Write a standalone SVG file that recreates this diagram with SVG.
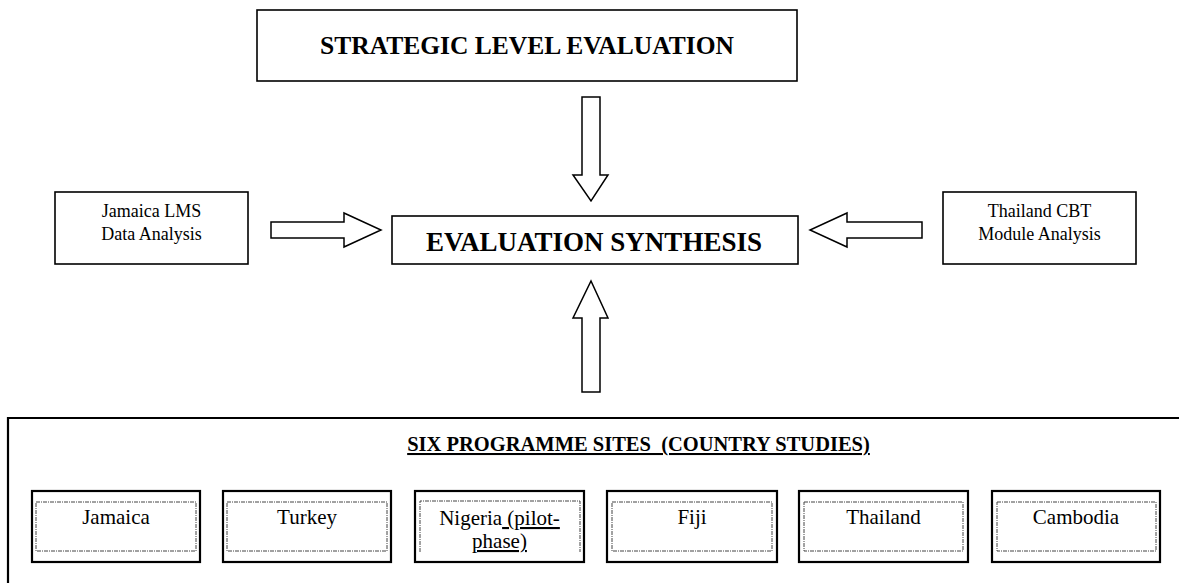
<svg xmlns="http://www.w3.org/2000/svg" width="1179" height="583" viewBox="0 0 1179 583">
<style>
.box{fill:#fff;stroke:#000;stroke-width:1.6}
.cbox{fill:#fff;stroke:#000;stroke-width:2.2}
.inner{fill:none;stroke:#444;stroke-width:1;stroke-dasharray:4 1 1 1}
.arr{fill:#fff;stroke:#000;stroke-width:1.5;stroke-linejoin:miter}
.t{font-family:"Liberation Serif","Times New Roman",serif;fill:#000;text-anchor:middle}
.b{font-weight:bold}
</style>
<rect width="1179" height="583" fill="#fff"/>
<g id="strategic">
<rect class="box" x="257" y="10" width="540" height="71"/>
<text class="t b" x="527" y="54" font-size="25.5">STRATEGIC LEVEL EVALUATION</text>
</g>
<g id="synthesis">
<rect class="box" x="392" y="216" width="406" height="48"/>
<text class="t b" x="594" y="251" font-size="27">EVALUATION SYNTHESIS</text>
</g>
<g id="jamaica-lms">
<rect class="box" x="55" y="192" width="193" height="72"/>
<text class="t" x="151.5" y="217" font-size="18">Jamaica LMS</text>
<text class="t" x="151.5" y="240" font-size="18">Data Analysis</text>
</g>
<g id="thailand-cbt">
<rect class="box" x="943" y="192" width="193" height="72"/>
<text class="t" x="1039.5" y="217" font-size="18">Thailand CBT</text>
<text class="t" x="1039.5" y="240" font-size="18">Module Analysis</text>
</g>
<g id="connectors">
<path class="arr" d="M582,97 H600 V175 H608 L591,201 L573,175 H582 Z"/>
<path class="arr" d="M582,392 H600 V318 H608 L591,281 L573,318 H582 Z"/>
<path class="arr" d="M271,222 V238 H344 V247 L381,230 L344,213 V222 Z"/>
<path class="arr" d="M922,222 V238 H847 V247 L810,230 L847,213 V222 Z"/>
</g>
<g id="sites">
<path d="M8,583 V418 H1179" fill="none" stroke="#000" stroke-width="2.2"/>
<text class="t b" x="638.5" y="451" font-size="20.5" text-decoration="underline" xml:space="preserve" style="white-space:pre">SIX PROGRAMME SITES  (COUNTRY STUDIES)</text>
</g>
<g id="site-jamaica">
<rect class="cbox" x="32" y="491" width="168" height="71"/>
<rect class="inner" x="36" y="502" width="160" height="49"/>
<text class="t" x="116" y="524" font-size="21">Jamaica</text>
</g>
<g id="site-turkey">
<rect class="cbox" x="223" y="491" width="168" height="71"/>
<rect class="inner" x="227" y="502" width="160" height="49"/>
<text class="t" x="307" y="524" font-size="21">Turkey</text>
</g>
<g id="site-nigeria">
<rect class="cbox" x="415" y="491" width="169" height="71"/>
<path class="inner" d="M420,552 V501 H580 V552"/>
<text class="t" x="499.5" y="525" font-size="21">Nigeria<tspan text-decoration="underline"> (pilot-</tspan></text>
<text class="t" x="499.5" y="548" font-size="21" text-decoration="underline">phase)</text>
</g>
<g id="site-fiji">
<rect class="cbox" x="607" y="491" width="170" height="71"/>
<rect class="inner" x="612" y="502" width="160" height="49"/>
<text class="t" x="692" y="524" font-size="21">Fiji</text>
</g>
<g id="site-thailand">
<rect class="cbox" x="799" y="491" width="169" height="71"/>
<rect class="inner" x="804" y="502" width="159" height="49"/>
<text class="t" x="883.5" y="524" font-size="21">Thailand</text>
</g>
<g id="site-cambodia">
<rect class="cbox" x="992" y="491" width="168" height="71"/>
<rect class="inner" x="997" y="502" width="159" height="49"/>
<text class="t" x="1076" y="524" font-size="21">Cambodia</text>
</g>
</svg>
